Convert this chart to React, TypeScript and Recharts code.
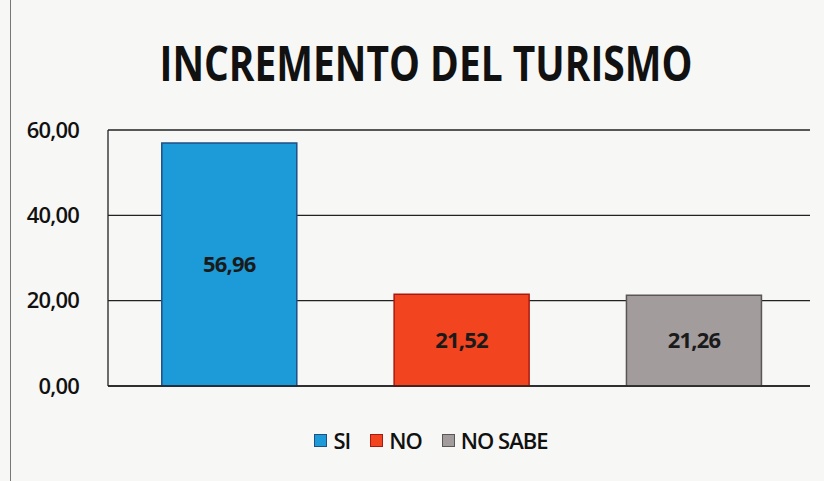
import React from "react";
import { BarChart, Bar, XAxis, YAxis, CartesianGrid, Cell, LabelList, Legend } from "recharts";

const categories = ["SI", "NO", "NO SABE"];
const values = [56.96, 21.52, 21.26];
const colors = ["#1d9ad8", "#f1441f", "#a29c9c"];
const strokes = ["#1f4f85", "#a81a10", "#5a5656"];
const yTicks = [0, 20, 40, 60];
const title = "INCREMENTO DEL TURISMO";

const data = categories.map((c, i) => ({ name: c, value: values[i] }));

const fmt = (v: number) => v.toFixed(2).replace(".", ",");

const font = "'Open Sans', 'Noto Sans', sans-serif";

const LegendContent = () => (
  <div style={{ display: "flex", justifyContent: "center", alignItems: "center", fontFamily: font, fontSize: 22, lineHeight: "26px", color: "#111", fontWeight: 600, paddingLeft: 58 }}>
    {categories.map((c, i) => (
      <div key={c} style={{ display: "flex", alignItems: "center", marginRight: 20 }}>
        <span style={{ display: "inline-block", width: 11, height: 11, background: colors[i], border: `1px solid ${strokes[i]}`, marginRight: 6 }} />
        <span style={{ letterSpacing: -1 }}>{c}</span>
      </div>
    ))}
  </div>
);

export default function App() {
  return (
    <div style={{ position: "absolute", left: 0, top: 0, width: 824, height: 481, background: "#f7f7f5", overflow: "hidden" }}>
      <div style={{ position: "absolute", left: 10, top: 0, width: 1, height: 481, background: "#777" }} />
      <svg style={{ position: "absolute", left: 0, top: 0 }} width={824} height={110}>
        <text x={426} y={81} textAnchor="middle" textLength={533} lengthAdjust="spacingAndGlyphs" fontFamily={font} fontWeight={700} fontSize={48} fill="#111">
          {title}
        </text>
      </svg>
      <div style={{ position: "absolute", left: 0, top: 0 }}>
        <BarChart width={824} height={481} data={data} margin={{ top: 130, right: 14, bottom: 68, left: 0 }} barCategoryGap="21%">
          <CartesianGrid vertical={false} stroke="#222" strokeWidth={1.3} />
          <XAxis dataKey="name" tick={false} axisLine={{ stroke: "#222", strokeWidth: 1.3 }} tickLine={false} height={1} padding={{ left: 5, right: 0 }} />
          <YAxis
            width={108}
            domain={[0, 60]}
            ticks={yTicks}
            tickFormatter={fmt}
            axisLine={{ stroke: "#222", strokeWidth: 1.3 }}
            tickLine={false}
            tickMargin={23}
            tick={{ fill: "#111", fontFamily: font, fontSize: 22, fontWeight: 600, letterSpacing: -0.8 }}
          />
          <Legend verticalAlign="bottom" content={LegendContent} wrapperStyle={{ top: 427, left: 0, width: 824 }} />
          <Bar dataKey="value" isAnimationActive={false} strokeWidth={1.5}>
            {data.map((d, i) => (
              <Cell key={d.name} fill={colors[i]} stroke={strokes[i]} />
            ))}
            <LabelList dataKey="value" position="center" formatter={(v: any) => fmt(Number(v))} fill="#1a1a1a" fontFamily={font} fontSize={22} fontWeight={700} letterSpacing={-0.8} />
          </Bar>
        </BarChart>
      </div>
    </div>
  );
}
